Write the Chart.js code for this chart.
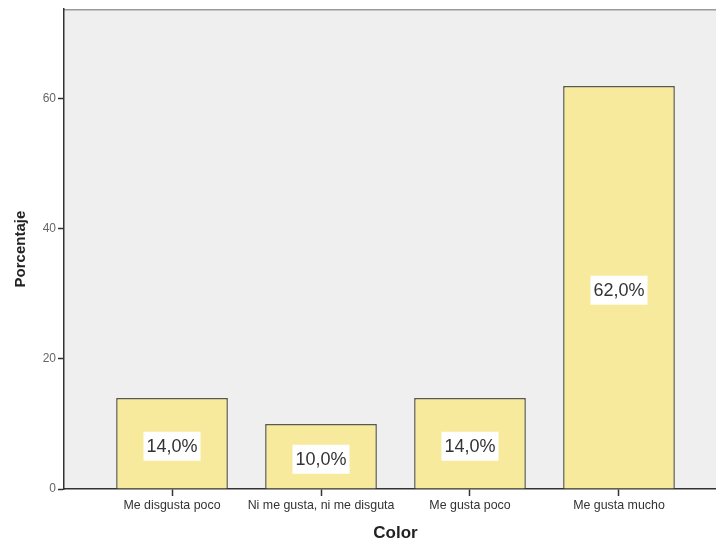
<!DOCTYPE html>
<html>
<head>
<meta charset="utf-8">
<script src="https://cdn.jsdelivr.net/npm/chart.js@4.4.1/dist/chart.umd.min.js"></script>
<style>
  html, body { margin: 0; padding: 0; background: #fff; overflow: hidden; }
  #wrap { position: relative; width: 740px; height: 544px; }
</style>
</head>
<body>
<div id="wrap"><canvas id="chart"></canvas></div>
<script>
// Color preference, percentages
const categories = ['Me disgusta poco', 'Ni me gusta, ni me disguta', 'Me gusta poco', 'Me gusta mucho'];
const percentages = [14.0, 10.0, 14.0, 62.0];
const yTicks = [0, 20, 40, 60];

const FONT = "'Liberation Sans', Arial, sans-serif";

function formatPct(v) {
    return v.toFixed(1).replace('.', ',') + '%';
}

// White boxed value labels in the middle of each bar
const valueLabels = {
    id: 'valueLabels',
    afterDatasetsDraw(chart) {
        const ctx = chart.ctx;
        const meta = chart.getDatasetMeta(0);
        ctx.save();
        ctx.font = '18px ' + FONT;
        ctx.textAlign = 'center';
        ctx.textBaseline = 'middle';
        meta.data.forEach((bar, i) => {
            const text = formatPct(percentages[i]);
            const cy = (bar.y + bar.base) / 2 + 3;
            const w = ctx.measureText(text).width + 6;
            const h = 29;
            ctx.fillStyle = '#ffffff';
            ctx.fillRect(bar.x - w / 2, cy - h / 2, w, h);
            ctx.fillStyle = '#333333';
            ctx.fillText(text, bar.x, cy + 1);
        });
        ctx.restore();
    }
};

// Plot frame: grey top line behind the bars
const frame = {
    id: 'frame',
    beforeDraw(chart) {
        const { ctx, chartArea: a } = chart;
        ctx.save();
        ctx.fillStyle = '#efefef';
        ctx.fillRect(a.left, a.top, a.right - a.left, a.bottom - a.top);
        ctx.strokeStyle = '#9a9a9a';
        ctx.lineWidth = 1.5;
        ctx.beginPath();
        ctx.moveTo(a.left, a.top + 0.5);
        ctx.lineTo(a.right, a.top + 0.5);
        ctx.stroke();
        ctx.restore();
    }
};

new Chart(document.getElementById('chart'), {
    type: 'bar',
    data: {
        datasets: [{
            data: percentages.map((v, i) => ({ x: i, y: v })),
            backgroundColor: '#f7ea9c',
            borderColor: '#5a5a4a',
            borderWidth: 1.5,
            barPercentage: 0.75,
            categoryPercentage: 1.0
        }]
    },
    options: {
        responsive: true,
        maintainAspectRatio: false,
        animation: false,
        layout: { padding: { top: 9, right: 13, left: 0, bottom: 0 } },
        plugins: {
            legend: { display: false },
            tooltip: { enabled: false }
        },
        scales: {
            x: {
                type: 'linear',
                offset: false,
                min: -0.725,
                max: 3.725,
                grid: { display: true, offset: false, drawOnChartArea: false, drawTicks: true, tickLength: 7, tickColor: '#333', tickWidth: 1.5 },
                border: { display: true, color: '#333', width: 1.5 },
                afterBuildTicks(scale) {
                    scale.ticks = categories.map((c, i) => ({ value: i }));
                },
                ticks: {
                    autoSkip: false,
                    maxRotation: 0,
                    color: '#333',
                    padding: 2,
                    font: { family: FONT, size: 12.4 },
                    callback: (v) => categories[v]
                },
                title: {
                    display: true,
                    text: 'Color',
                    color: '#222',
                    font: { family: FONT, size: 17, weight: 'bold' },
                    padding: { top: 6, bottom: 0 }
                },
                afterFit(scale) { scale.height = 55; }
            },
            y: {
                min: 0,
                max: 73.8,
                afterBuildTicks(scale) {
                    scale.ticks = yTicks.map(v => ({ value: v }));
                },
                grid: { display: true, drawOnChartArea: false, drawTicks: true, tickLength: 6, tickColor: '#333', tickWidth: 1.5 },
                border: { display: true, color: '#333', width: 1.5 },
                ticks: {
                    color: '#666',
                    padding: 2,
                    font: { family: FONT, size: 12 }
                },
                title: {
                    display: true,
                    text: 'Porcentaje',
                    color: '#222',
                    font: { family: FONT, size: 15, weight: 'bold' },
                    padding: { top: 12, bottom: 0 }
                },
                afterFit(scale) { scale.width = 64; }
            }
        }
    },
    plugins: [frame, valueLabels]
});
</script>
</body>
</html>
